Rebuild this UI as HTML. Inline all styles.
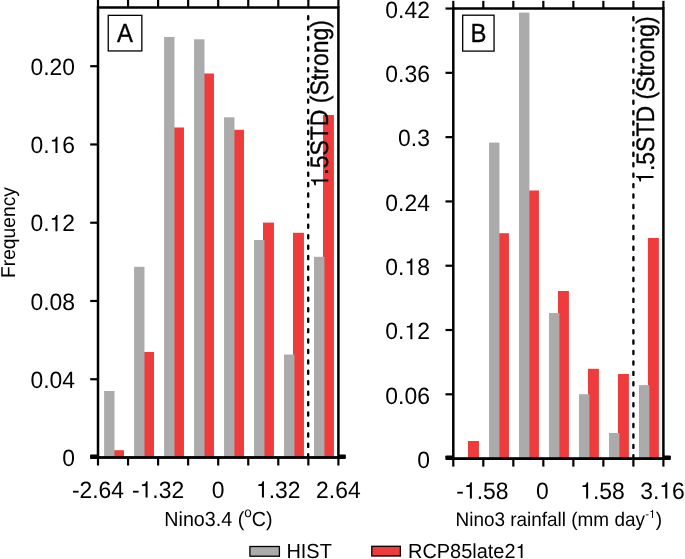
<!DOCTYPE html>
<html><head><meta charset="utf-8"><title>Histogram</title>
<style>html,body{margin:0;padding:0;background:#fff;overflow:hidden}svg{display:block;will-change:transform}text{font-family:"Liberation Sans",sans-serif;fill:#000;font-kerning:none;text-rendering:geometricPrecision}</style>
</head><body>
<svg width="685" height="559" viewBox="0 0 685 559">
<rect x="0" y="0" width="685" height="559" fill="#fff"/>
<rect x="113.05" y="450.20" width="10.95" height="7.30" fill="#ee3b3b"/>
<rect x="143.04" y="352.00" width="10.95" height="105.50" fill="#ee3b3b"/>
<rect x="173.03" y="127.50" width="10.95" height="330.00" fill="#ee3b3b"/>
<rect x="203.02" y="73.50" width="10.95" height="384.00" fill="#ee3b3b"/>
<rect x="233.01" y="129.80" width="10.95" height="327.70" fill="#ee3b3b"/>
<rect x="263.00" y="222.60" width="10.95" height="234.90" fill="#ee3b3b"/>
<rect x="292.99" y="232.80" width="10.95" height="224.70" fill="#ee3b3b"/>
<rect x="322.98" y="115.00" width="10.95" height="342.50" fill="#ee3b3b"/>
<rect x="104.10" y="391.00" width="10.4" height="66.50" fill="#ababab"/>
<rect x="134.09" y="266.80" width="10.4" height="190.70" fill="#ababab"/>
<rect x="164.08" y="37.00" width="10.4" height="420.50" fill="#ababab"/>
<rect x="194.07" y="39.30" width="10.4" height="418.20" fill="#ababab"/>
<rect x="224.06" y="117.30" width="10.4" height="340.20" fill="#ababab"/>
<rect x="254.05" y="240.00" width="10.4" height="217.50" fill="#ababab"/>
<rect x="284.04" y="354.50" width="10.4" height="103.00" fill="#ababab"/>
<rect x="314.03" y="256.80" width="10.4" height="200.70" fill="#ababab"/>
<line x1="308.20" y1="16.15" x2="308.20" y2="457.50" stroke="#000" stroke-width="2.35" stroke-linecap="round" stroke-dasharray="3.1 7.33"/>
<g stroke="#000" stroke-width="2.2" fill="none">
<line x1="98.00" y1="-0.50" x2="98.00" y2="7.50"/>
<line x1="98.00" y1="457.50" x2="98.00" y2="465.50"/>
<line x1="128.05" y1="-0.50" x2="128.05" y2="7.50"/>
<line x1="128.05" y1="457.50" x2="128.05" y2="465.50"/>
<line x1="158.10" y1="-0.50" x2="158.10" y2="7.50"/>
<line x1="158.10" y1="457.50" x2="158.10" y2="465.50"/>
<line x1="188.15" y1="-0.50" x2="188.15" y2="7.50"/>
<line x1="188.15" y1="457.50" x2="188.15" y2="465.50"/>
<line x1="218.20" y1="-0.50" x2="218.20" y2="7.50"/>
<line x1="218.20" y1="457.50" x2="218.20" y2="465.50"/>
<line x1="248.25" y1="-0.50" x2="248.25" y2="7.50"/>
<line x1="248.25" y1="457.50" x2="248.25" y2="465.50"/>
<line x1="278.30" y1="-0.50" x2="278.30" y2="7.50"/>
<line x1="278.30" y1="457.50" x2="278.30" y2="465.50"/>
<line x1="308.35" y1="-0.50" x2="308.35" y2="7.50"/>
<line x1="308.35" y1="457.50" x2="308.35" y2="465.50"/>
<line x1="338.40" y1="-0.50" x2="338.40" y2="7.50"/>
<line x1="338.40" y1="457.50" x2="338.40" y2="465.50"/>
<line x1="90.20" y1="379.24" x2="98.00" y2="379.24"/>
<line x1="90.20" y1="300.98" x2="98.00" y2="300.98"/>
<line x1="90.20" y1="222.72" x2="98.00" y2="222.72"/>
<line x1="90.20" y1="144.46" x2="98.00" y2="144.46"/>
<line x1="90.20" y1="66.20" x2="98.00" y2="66.20"/>
</g>
<g stroke="#000" stroke-width="2.5" fill="none">
<line x1="98.00" y1="6.25" x2="98.00" y2="457.50"/>
<line x1="338.40" y1="6.25" x2="338.40" y2="457.50"/>
<line x1="98.00" y1="7.50" x2="338.40" y2="7.50"/>
</g>
<rect x="97.00" y="456.10" width="242.40" height="2.8" fill="#000"/>
<rect x="90.00" y="454.40" width="8" height="4.5" rx="1" fill="#000"/>
<rect x="338.40" y="454.40" width="7.5" height="4.5" rx="1" fill="#000"/>
<g transform="translate(75.00,466.10) scale(1,1.035)">
<text x="-12.74" y="0.00" font-size="22.9" xml:space="preserve">0</text>
</g>
<g transform="translate(75.00,387.84) scale(1,1.035)">
<text x="-44.57" y="0.00" font-size="22.9" xml:space="preserve">0.04</text>
</g>
<g transform="translate(75.00,309.58) scale(1,1.035)">
<text x="-44.57" y="0.00" font-size="22.9" xml:space="preserve">0.08</text>
</g>
<g transform="translate(75.00,231.32) scale(1,1.035)">
<text x="-44.57" y="0.00" font-size="22.9" xml:space="preserve">0.</text>
<path transform="translate(-25.47,0.00) scale(0.02290,-0.02222)" d="M259 0L347 0L347 709L289 709C258 600 238 585 102 568L102 505L259 505Z"/>
<text x="-12.74" y="0.00" font-size="22.9" xml:space="preserve">2</text>
</g>
<g transform="translate(75.00,153.06) scale(1,1.035)">
<text x="-44.57" y="0.00" font-size="22.9" xml:space="preserve">0.</text>
<path transform="translate(-25.47,0.00) scale(0.02290,-0.02222)" d="M259 0L347 0L347 709L289 709C258 600 238 585 102 568L102 505L259 505Z"/>
<text x="-12.74" y="0.00" font-size="22.9" xml:space="preserve">6</text>
</g>
<g transform="translate(75.00,74.80) scale(1,1.035)">
<text x="-44.57" y="0.00" font-size="22.9" xml:space="preserve">0.20</text>
</g>
<g transform="translate(98.00,497.50) scale(1,1.035)">
<text x="-26.10" y="0.00" font-size="22.9" xml:space="preserve">-2.64</text>
</g>
<g transform="translate(158.10,497.50) scale(1,1.035)">
<text x="-26.10" y="0.00" font-size="22.9" xml:space="preserve">-</text>
<path transform="translate(-18.47,0.00) scale(0.02290,-0.02222)" d="M259 0L347 0L347 709L289 709C258 600 238 585 102 568L102 505L259 505Z"/>
<text x="-5.74" y="0.00" font-size="22.9" xml:space="preserve">.32</text>
</g>
<g transform="translate(218.20,497.50) scale(1,1.035)">
<text x="-6.37" y="0.00" font-size="22.9" xml:space="preserve">0</text>
</g>
<g transform="translate(278.30,497.50) scale(1,1.035)">
<path transform="translate(-22.29,0.00) scale(0.02290,-0.02222)" d="M259 0L347 0L347 709L289 709C258 600 238 585 102 568L102 505L259 505Z"/>
<text x="-9.55" y="0.00" font-size="22.9" xml:space="preserve">.32</text>
</g>
<g transform="translate(338.40,497.50) scale(1,1.035)">
<text x="-22.29" y="0.00" font-size="22.9" xml:space="preserve">2.64</text>
</g>
<rect x="108.25" y="15.35" width="33.6" height="35.6" fill="#fff" stroke="#000" stroke-width="1.3"/>
<g transform="translate(125.05,42.10) scale(1,1.1)" stroke="#000" stroke-width="0.3" stroke-linejoin="round">
<text x="-7.97" y="0.00" font-size="23.9" xml:space="preserve">A</text>
</g>
<g transform="translate(328.30,187.50) rotate(-90) scale(1,1.1)" stroke="#000" stroke-width="0.3" stroke-linejoin="round">
<path transform="translate(0.00,0.00) scale(0.02300,-0.02232)" d="M259 0L347 0L347 709L289 709C258 600 238 585 102 568L102 505L259 505Z"/>
<text x="12.79" y="0.00" font-size="23.0" xml:space="preserve">.5STD (Strong)</text>
</g>
<rect x="468.00" y="441.00" width="10.95" height="17.60" fill="#ee3b3b"/>
<rect x="497.99" y="233.20" width="10.95" height="225.40" fill="#ee3b3b"/>
<rect x="527.98" y="190.50" width="10.95" height="268.10" fill="#ee3b3b"/>
<rect x="557.97" y="291.00" width="10.95" height="167.60" fill="#ee3b3b"/>
<rect x="587.96" y="368.80" width="10.95" height="89.80" fill="#ee3b3b"/>
<rect x="617.95" y="374.00" width="10.95" height="84.60" fill="#ee3b3b"/>
<rect x="647.94" y="238.00" width="10.95" height="220.60" fill="#ee3b3b"/>
<rect x="489.04" y="142.60" width="10.4" height="316.00" fill="#ababab"/>
<rect x="519.03" y="12.60" width="10.4" height="446.00" fill="#ababab"/>
<rect x="549.02" y="313.00" width="10.4" height="145.60" fill="#ababab"/>
<rect x="579.01" y="394.20" width="10.4" height="64.40" fill="#ababab"/>
<rect x="609.00" y="433.00" width="10.4" height="25.60" fill="#ababab"/>
<rect x="638.99" y="385.10" width="10.4" height="73.50" fill="#ababab"/>
<line x1="633.40" y1="17.20" x2="633.40" y2="458.60" stroke="#000" stroke-width="2.35" stroke-linecap="round" stroke-dasharray="3.1 7.33"/>
<g stroke="#000" stroke-width="2.2" fill="none">
<line x1="453.30" y1="0.85" x2="453.30" y2="8.55"/>
<line x1="453.30" y1="458.60" x2="453.30" y2="466.60"/>
<line x1="483.31" y1="0.85" x2="483.31" y2="8.55"/>
<line x1="483.31" y1="458.60" x2="483.31" y2="466.60"/>
<line x1="513.33" y1="0.85" x2="513.33" y2="8.55"/>
<line x1="513.33" y1="458.60" x2="513.33" y2="466.60"/>
<line x1="543.34" y1="0.85" x2="543.34" y2="8.55"/>
<line x1="543.34" y1="458.60" x2="543.34" y2="466.60"/>
<line x1="573.36" y1="0.85" x2="573.36" y2="8.55"/>
<line x1="573.36" y1="458.60" x2="573.36" y2="466.60"/>
<line x1="603.37" y1="0.85" x2="603.37" y2="8.55"/>
<line x1="603.37" y1="458.60" x2="603.37" y2="466.60"/>
<line x1="633.39" y1="0.85" x2="633.39" y2="8.55"/>
<line x1="633.39" y1="458.60" x2="633.39" y2="466.60"/>
<line x1="663.40" y1="0.85" x2="663.40" y2="8.55"/>
<line x1="663.40" y1="458.60" x2="663.40" y2="466.60"/>
<line x1="445.50" y1="394.31" x2="453.30" y2="394.31"/>
<line x1="445.50" y1="330.01" x2="453.30" y2="330.01"/>
<line x1="445.50" y1="265.72" x2="453.30" y2="265.72"/>
<line x1="445.50" y1="201.43" x2="453.30" y2="201.43"/>
<line x1="445.50" y1="137.14" x2="453.30" y2="137.14"/>
<line x1="445.50" y1="72.84" x2="453.30" y2="72.84"/>
<line x1="445.50" y1="8.55" x2="453.30" y2="8.55"/>
</g>
<g stroke="#000" stroke-width="2.5" fill="none">
<line x1="453.30" y1="7.30" x2="453.30" y2="458.60"/>
<line x1="663.40" y1="7.30" x2="663.40" y2="458.60"/>
<line x1="453.30" y1="8.55" x2="663.40" y2="8.55"/>
</g>
<rect x="452.30" y="457.20" width="212.10" height="2.8" fill="#000"/>
<rect x="445.30" y="455.50" width="8" height="4.5" rx="1" fill="#000"/>
<rect x="663.40" y="455.50" width="7.5" height="4.5" rx="1" fill="#000"/>
<g transform="translate(429.90,467.80) scale(1,1.035)">
<text x="-12.74" y="0.00" font-size="22.9" xml:space="preserve">0</text>
</g>
<g transform="translate(429.90,403.51) scale(1,1.035)">
<text x="-44.57" y="0.00" font-size="22.9" xml:space="preserve">0.06</text>
</g>
<g transform="translate(429.90,339.21) scale(1,1.035)">
<text x="-44.57" y="0.00" font-size="22.9" xml:space="preserve">0.</text>
<path transform="translate(-25.47,0.00) scale(0.02290,-0.02222)" d="M259 0L347 0L347 709L289 709C258 600 238 585 102 568L102 505L259 505Z"/>
<text x="-12.74" y="0.00" font-size="22.9" xml:space="preserve">2</text>
</g>
<g transform="translate(429.90,274.92) scale(1,1.035)">
<text x="-44.57" y="0.00" font-size="22.9" xml:space="preserve">0.</text>
<path transform="translate(-25.47,0.00) scale(0.02290,-0.02222)" d="M259 0L347 0L347 709L289 709C258 600 238 585 102 568L102 505L259 505Z"/>
<text x="-12.74" y="0.00" font-size="22.9" xml:space="preserve">8</text>
</g>
<g transform="translate(429.90,210.63) scale(1,1.035)">
<text x="-44.57" y="0.00" font-size="22.9" xml:space="preserve">0.24</text>
</g>
<g transform="translate(429.90,146.34) scale(1,1.035)">
<text x="-31.83" y="0.00" font-size="22.9" xml:space="preserve">0.3</text>
</g>
<g transform="translate(429.90,82.04) scale(1,1.035)">
<text x="-44.57" y="0.00" font-size="22.9" xml:space="preserve">0.36</text>
</g>
<g transform="translate(429.90,17.75) scale(1,1.035)">
<text x="-44.57" y="0.00" font-size="22.9" xml:space="preserve">0.42</text>
</g>
<g transform="translate(482.41,498.60) scale(1,1.035)">
<text x="-26.10" y="0.00" font-size="22.9" xml:space="preserve">-</text>
<path transform="translate(-18.47,0.00) scale(0.02290,-0.02222)" d="M259 0L347 0L347 709L289 709C258 600 238 585 102 568L102 505L259 505Z"/>
<text x="-5.74" y="0.00" font-size="22.9" xml:space="preserve">.58</text>
</g>
<g transform="translate(542.44,498.60) scale(1,1.035)">
<text x="-6.37" y="0.00" font-size="22.9" xml:space="preserve">0</text>
</g>
<g transform="translate(602.47,498.60) scale(1,1.035)">
<path transform="translate(-22.29,0.00) scale(0.02290,-0.02222)" d="M259 0L347 0L347 709L289 709C258 600 238 585 102 568L102 505L259 505Z"/>
<text x="-9.55" y="0.00" font-size="22.9" xml:space="preserve">.58</text>
</g>
<g transform="translate(662.50,498.60) scale(1,1.035)">
<text x="-22.29" y="0.00" font-size="22.9" xml:space="preserve">3.</text>
<path transform="translate(-3.19,0.00) scale(0.02290,-0.02222)" d="M259 0L347 0L347 709L289 709C258 600 238 585 102 568L102 505L259 505Z"/>
<text x="9.55" y="0.00" font-size="22.9" xml:space="preserve">6</text>
</g>
<rect x="462.70" y="15.20" width="31.35" height="35.9" fill="#fff" stroke="#000" stroke-width="1.3"/>
<g transform="translate(478.38,42.30) scale(1,1.1)" stroke="#000" stroke-width="0.3" stroke-linejoin="round">
<text x="-7.97" y="0.00" font-size="23.9" xml:space="preserve">B</text>
</g>
<g transform="translate(653.50,183.90) rotate(-90) scale(1,1.1)" stroke="#000" stroke-width="0.3" stroke-linejoin="round">
<path transform="translate(0.00,0.00) scale(0.02300,-0.02232)" d="M259 0L347 0L347 709L289 709C258 600 238 585 102 568L102 505L259 505Z"/>
<text x="12.79" y="0.00" font-size="23.0" xml:space="preserve">.5STD (Strong)</text>
</g>
<g transform="translate(164.3,526) scale(1,1.04)">
<text x="0.00" y="0.00" font-size="19.7" xml:space="preserve">Nino3.4 (</text>
<text x="79.94" y="-8.30" font-size="13.5" xml:space="preserve">o</text>
<text x="87.44" y="0.00" font-size="19.7" xml:space="preserve">C)</text>
</g>
<g transform="translate(455.5,526.2) scale(1,1.04)">
<text x="0.00" y="0.00" font-size="18.95" xml:space="preserve">Nino3 rainfall (mm day</text>
<text x="189.86" y="-8.00" font-size="11.3" xml:space="preserve">-</text>
<path transform="translate(193.63,-8.00) scale(0.01130,-0.01097)" d="M259 0L347 0L347 709L289 709C258 600 238 585 102 568L102 505L259 505Z"/>
<text x="200.21" y="0.00" font-size="18.95" xml:space="preserve">)</text>
</g>
<g transform="translate(14.60,278.00) rotate(-90) scale(1,1.04)">
<text x="0.00" y="0.00" font-size="19.25" xml:space="preserve">Frequency</text>
</g>
<rect x="249.9" y="546.5" width="29.5" height="9.7" fill="#ababab" stroke="#000" stroke-width="1.3"/>
<g transform="translate(286.40,557.90) scale(1,1.02)">
<text x="0.00" y="0.00" font-size="19.95" xml:space="preserve">HIST</text>
</g>
<rect x="371.8" y="546.3" width="28.6" height="9.7" fill="#ee3b3b" stroke="#000" stroke-width="1.3"/>
<g transform="translate(408.00,557.90) scale(1,1.02)">
<text x="0.00" y="0.00" font-size="19.95" xml:space="preserve">RCP85late2</text>
<path transform="translate(107.57,0.00) scale(0.01995,-0.01936)" d="M259 0L347 0L347 709L289 709C258 600 238 585 102 568L102 505L259 505Z"/>
</g>
</svg></body></html>
